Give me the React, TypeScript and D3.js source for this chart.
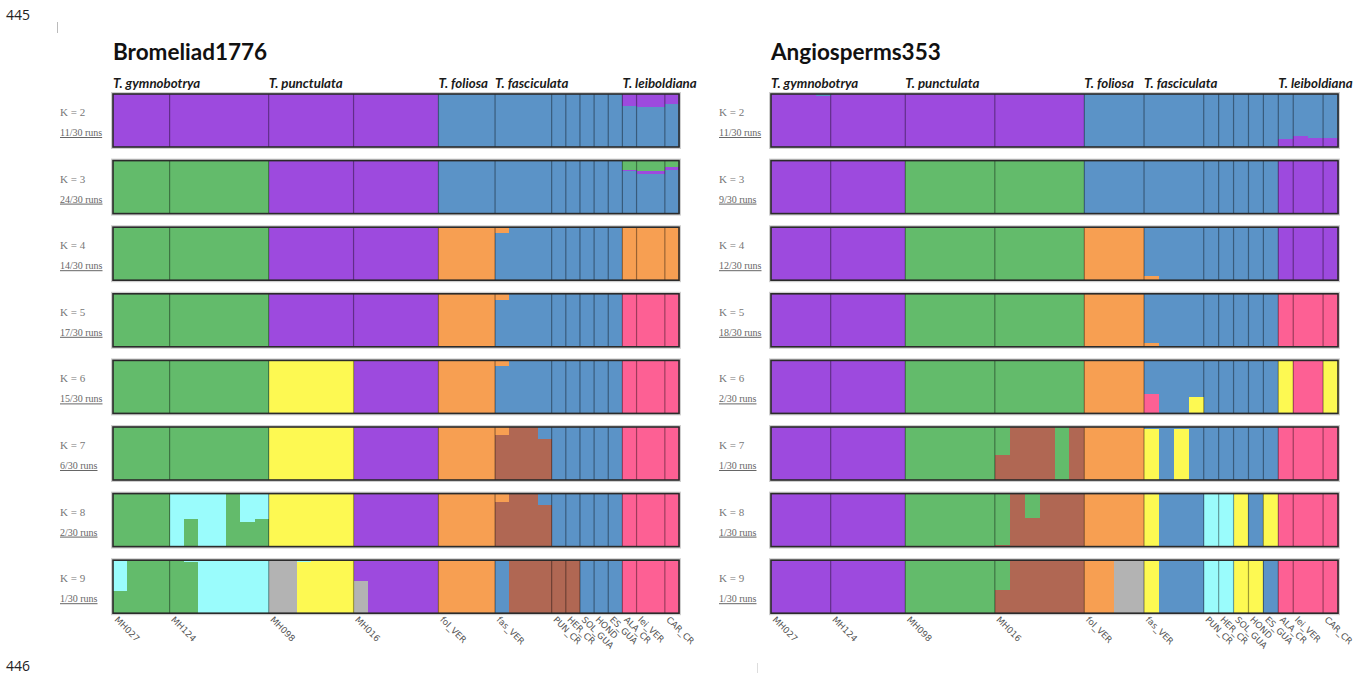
import React from "react";
import * as d3 from "d3";

// ---------- data ----------
const popNames = ["MH027", "MH124", "MH098", "MH016", "fol_VER", "fas_VER", "PUN_CR", "HER_CR", "SOL_GUA", "HOND", "ES_GUA", "ALA_CR", "lei_VER", "CAR_CR"];
const bromCounts = [4, 7, 6, 6, 4, 4, 1, 1, 1, 1, 1, 1, 2, 1];
const angioCounts = [4, 5, 6, 6, 4, 4, 1, 1, 1, 1, 1, 1, 2, 1];
const speciesNames = ["T. gymnobotrya", "T. punctulata", "T. foliosa", "T. fasciculata", "T. leiboldiana"];
const speciesStartPop = [0, 2, 4, 5, 11];
const kValues = [2, 3, 4, 5, 6, 7, 8, 9];
const bromRuns = ["11/30", "24/30", "14/30", "17/30", "15/30", "6/30", "2/30", "1/30"];
const angioRuns = ["11/30", "9/30", "12/30", "18/30", "2/30", "1/30", "1/30", "1/30"];

// cluster colours
const clusterColors: Record<string, string> = {
  P: "#9d4ade", B: "#5b93c7", G: "#63bb6b", O: "#f79f52", Y: "#fdf952",
  R: "#b06753", K: "#fd6094", C: "#9afcfc", S: "#b3b3b3",
};

// membership per individual, top to bottom; "n|spec" repeats n times; "X47" = 47% of cluster X, last takes the rest
const bromK2 = ["23|P", "13|B", "P22 B", "2|P24 B", "P19 B"];
const bromK3 = ["11|G", "12|P", "13|B", "G17 P3 B", "2|G19 P6 B", "G12 P5 B"];
const bromK4 = ["11|G", "12|P", "4|O", "O11 B", "8|B", "4|O"];
const bromK5 = ["11|G", "12|P", "4|O", "O11 B", "8|B", "4|K"];
const bromK6 = ["11|G", "6|Y", "6|P", "4|O", "O10 B", "8|B", "4|K"];
const bromK7 = ["11|G", "6|Y", "6|P", "4|O", "O16 R", "2|R", "B23 R", "5|B", "4|K"];
const bromK8 = ["4|G", "C", "C48 G", "2|C", "G", "C53 G", "C48 G", "6|Y", "6|P", "4|O", "O15 R", "2|R", "B21 R", "5|B", "4|K"];
const bromK9 = ["C58 G", "3|G", "G", "C3 G", "5|C", "2|S", "C3 Y", "3|Y", "P40 S", "5|P", "4|O", "B", "3|R", "2|R", "3|B", "4|K"];

const angioK2 = ["3|P", "B3 P", "17|P", "13|B", "B84 P", "B80 P", "B83 P", "B83 P"];
const angioK3 = ["9|P", "12|G", "13|B", "4|P"];
const angioK4 = ["9|P", "12|G", "4|O", "B92 O", "8|B", "4|P"];
const angioK5 = ["9|P", "12|G", "4|O", "B92 O", "8|B", "4|K"];
const angioK6 = ["9|P", "12|G", "4|O", "B63 K", "2|B", "B69 Y", "5|B", "Y", "2|K", "Y"];
const angioK7 = ["9|P", "6|G", "G52 R", "3|R", "G", "R", "4|O", "B3 Y", "B", "B3 Y", "B", "5|B", "4|K"];
const angioK8 = ["9|P", "6|G", "G97 R", "R", "G46 R", "3|R", "4|O", "Y", "3|B", "2|C", "Y", "B", "Y", "4|K"];
const angioK9 = ["9|P", "6|G", "G57 R", "5|R", "2|O", "2|S", "Y", "3|B", "2|C", "2|Y", "B", "4|K"];

const bromRows = [bromK2, bromK3, bromK4, bromK5, bromK6, bromK7, bromK8, bromK9];
const angioRows = [angioK2, angioK3, angioK4, angioK5, angioK6, angioK7, angioK8, angioK9];

// ---------- helpers ----------
type Seg = { c: string; f: number };
type Run = { start: number; n: number; segs: Seg[]; key: string };

function parseSpec(spec: string): Seg[] {
  const toks = spec.trim().split(/\s+/);
  const segs: Seg[] = [];
  let used = 0;
  toks.forEach((t, i) => {
    const c = t[0];
    if (i === toks.length - 1) segs.push({ c, f: 1 - used });
    else {
      const f = +t.slice(1) / 100;
      segs.push({ c, f });
      used += f;
    }
  });
  return segs;
}

// expand to individuals, then merge consecutive identical individuals into runs
function rowRuns(row: string[]): Run[] {
  const inds: { key: string; segs: Seg[] }[] = [];
  row.forEach((entry) => {
    let n = 1;
    let spec = entry;
    if (entry.includes("|")) {
      const [a, b] = entry.split("|");
      n = +a;
      spec = b;
    }
    const segs = parseSpec(spec);
    for (let i = 0; i < n; i++) inds.push({ key: spec.trim(), segs });
  });
  const runs: Run[] = [];
  inds.forEach((ind, i) => {
    const last = runs[runs.length - 1];
    if (last && last.key === ind.key) last.n += 1;
    else runs.push({ start: i, n: 1, segs: ind.segs, key: ind.key });
  });
  return runs;
}

const W = 1369;
const H = 675;
const rowTop0 = 94;
const rowStep = 66.6;
const rowH = 53;

type PanelProps = {
  title: string;
  x0: number;
  x1: number;
  labelX: number;
  counts: number[];
  rows: string[][];
  runs: string[];
};

function Panel({ title, x0, x1, labelX, counts, rows, runs }: PanelProps) {
  const nInd = d3.sum(counts);
  const x = d3.scaleLinear().domain([0, nInd]).range([x0, x1]);
  const starts = counts.map((_, i) => d3.sum(counts.slice(0, i)));
  const lastBottom = rowTop0 + rowStep * (rows.length - 1) + rowH;
  return (
    <g>
      <text x={x0} y={60} fontFamily="Lato, 'Open Sans', sans-serif" fontWeight={700} fontSize={22.5} fill="#111">
        {title}
      </text>
      {speciesNames.map((s, i) => (
        <text key={s} x={x(starts[speciesStartPop[i]])} y={88} fontFamily="Lato, 'Open Sans', sans-serif" fontStyle="italic" fontWeight={700} fontSize={13.3} fill="#1a1a1a">
          {s}
        </text>
      ))}
      {rows.map((row, r) => {
        const top = rowTop0 + rowStep * r;
        const y = d3.scaleLinear().domain([0, 1]).range([top, top + rowH]);
        const rr = rowRuns(row);
        return (
          <g key={r}>
            <text x={labelX} y={top + 22} fontFamily="'Liberation Serif', 'DejaVu Serif', serif" fontSize={11} fill="#777">
              {`K = ${kValues[r]}`}
            </text>
            <text x={labelX} y={top + 42} fontFamily="'Liberation Serif', 'DejaVu Serif', serif" fontSize={10} fill="#666" textDecoration="underline">
              {`${runs[r]} runs`}
            </text>
            <rect x={x0 - 1} y={top - 1} width={x1 - x0 + 2} height={rowH + 2} fill="none" stroke="#cfcfcf" strokeWidth={2} />
            <g shapeRendering="crispEdges">
              {rr.map((run, i) => {
                let acc = 0;
                return run.segs.map((s, j) => {
                  const y0 = y(acc);
                  acc += s.f;
                  const y1 = y(acc);
                  return (
                    <rect key={`${i}-${j}`} x={x(run.start)} y={y0} width={x(run.start + run.n) - x(run.start) + 0.5} height={Math.max(0, y1 - y0 + 0.4)} fill={clusterColors[s.c]} />
                  );
                });
              })}
            </g>
            {starts.slice(1).map((s, i) => (
              <line key={i} x1={x(s)} x2={x(s)} y1={top} y2={top + rowH} stroke="rgba(0,0,0,0.38)" strokeWidth={1.2} />
            ))}
            <rect x={x0} y={top} width={x1 - x0} height={rowH} fill="none" stroke="#2b2b2b" strokeWidth={1.6} />
          </g>
        );
      })}
      {popNames.map((p, i) => {
        const px = x(starts[i]) + 1;
        const py = lastBottom + 7;
        return (
          <text key={p} x={px} y={py} transform={`rotate(45 ${px} ${py})`} fontFamily="'DejaVu Sans', sans-serif" fontSize={8.8} fill="#555">
            {p}
          </text>
        );
      })}
    </g>
  );
}

export default function App() {
  return (
    <svg width={W} height={H} style={{ position: "absolute", left: 0, top: 0, background: "#fff" }}>
      <rect x={0} y={0} width={W} height={H} fill="#fff" />
      <text x={6} y={20} fontFamily="'Open Sans', 'DejaVu Sans', sans-serif" fontSize={14} fill="#222">445</text>
      <text x={6} y={671} fontFamily="'Open Sans', 'DejaVu Sans', sans-serif" fontSize={14} fill="#222">446</text>
      <line x1={57.5} x2={57.5} y1={22} y2={33} stroke="#bbb" strokeWidth={1} />
      <line x1={757.5} x2={757.5} y1={663} y2={673} stroke="#ddd" strokeWidth={1} />
      <Panel title="Bromeliad1776" x0={113} x1={679} labelX={60} counts={bromCounts} rows={bromRows} runs={bromRuns} />
      <Panel title="Angiosperms353" x0={771} x1={1338} labelX={719} counts={angioCounts} rows={angioRows} runs={angioRuns} />
    </svg>
  );
}
